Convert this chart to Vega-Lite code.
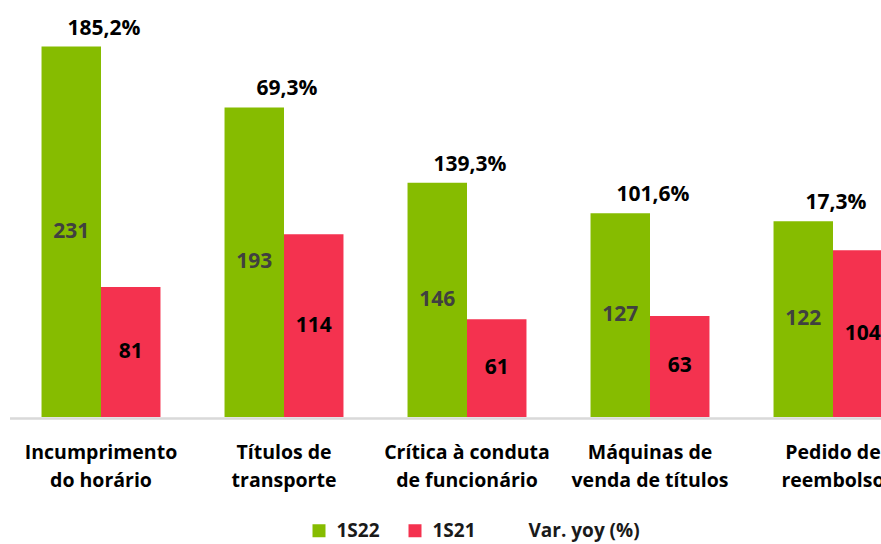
{
  "$schema": "https://vega.github.io/schema/vega-lite/v6.json",
  "width": 915,
  "height": 417,
  "autosize": {"type": "none"},
  "padding": {"left": 9.5, "top": 0, "right": 0, "bottom": 127},
  "config": {
    "view": {"stroke": null},
    "font": "Open Sans"
  },
  "data": {
    "values": [
      {"cat": "Incumprimento|do horário", "1S22": 231, "1S21": 81, "var": "185,2%"},
      {"cat": "Títulos de|transporte", "1S22": 193, "1S21": 114, "var": "69,3%"},
      {"cat": "Crítica à conduta|de funcionário", "1S22": 146, "1S21": 61, "var": "139,3%"},
      {"cat": "Máquinas de|venda de títulos", "1S22": 127, "1S21": 63, "var": "101,6%"},
      {"cat": "Pedido de|reembolso", "1S22": 122, "1S21": 104, "var": "17,3%"}
    ]
  },
  "layer": [
    {
      "transform": [{"fold": ["1S22", "1S21"], "as": ["serie", "value"]}],
      "mark": {"type": "bar"},
      "encoding": {
        "x": {
          "field": "cat", "type": "nominal", "sort": null,
          "scale": {"paddingInner": 0.35, "paddingOuter": 0.175},
          "axis": {
            "title": null, "labelAngle": 0,
            "labelExpr": "split(datum.label, '|')",
            "labelFontSize": 19.5, "labelFontWeight": "bold", "labelColor": "#000000",
            "labelPadding": 25, "labelLineHeight": 28, "labelLimit": 300,
            "ticks": false, "domainColor": "#d9d9d9", "domainWidth": 2.5, "offset": 1
          }
        },
        "xOffset": {"field": "serie", "type": "nominal", "scale": {"domain": ["1S22", "1S21"], "paddingInner": 0}},
        "y": {"field": "value", "type": "quantitative", "scale": {"domain": [0, 256]}, "axis": null},
        "color": {
          "field": "serie", "type": "nominal",
          "scale": {"domain": ["1S22", "1S21", "Var. yoy (%)"], "range": ["#86BC00", "#F4324F", "#ffffff"]},
          "legend": {
            "orient": "none", "legendX": 300, "legendY": 521,
            "direction": "horizontal", "title": null,
            "symbolType": "square", "symbolSize": 169, "symbolStrokeWidth": 0,
            "labelFontSize": 19, "labelFontWeight": "bold", "labelColor": "#1a1a1a",
            "labelOffset": 8, "columnPadding": 25, "labelLimit": 200
          }
        }
      }
    },
    {
      "transform": [
        {"fold": ["1S22", "1S21"], "as": ["serie", "value"]},
        {"calculate": "datum.value / 2", "as": "mid"}
      ],
      "mark": {"type": "text", "fontSize": 21, "fontWeight": "bold", "baseline": "middle"},
      "encoding": {
        "x": {"field": "cat", "type": "nominal", "sort": null},
        "xOffset": {"field": "serie", "type": "nominal", "scale": {"domain": ["1S22", "1S21"]}},
        "y": {"field": "mid", "type": "quantitative"},
        "text": {"field": "value", "type": "quantitative"},
        "color": {
          "field": "serie", "type": "nominal",
          "scale": {"domain": ["1S22", "1S21"], "range": ["#404040", "#000000"]},
          "legend": null
        }
      }
    },
    {
      "mark": {"type": "text", "fontSize": 21, "fontWeight": "bold", "baseline": "alphabetic", "dy": -12, "dx": 3, "color": "#000000"},
      "encoding": {
        "x": {"field": "cat", "type": "nominal", "sort": null},
        "y": {"field": "1S22", "type": "quantitative"},
        "text": {"field": "var", "type": "nominal"}
      }
    }
  ],
  "resolve": {"scale": {"color": "independent"}}
}
